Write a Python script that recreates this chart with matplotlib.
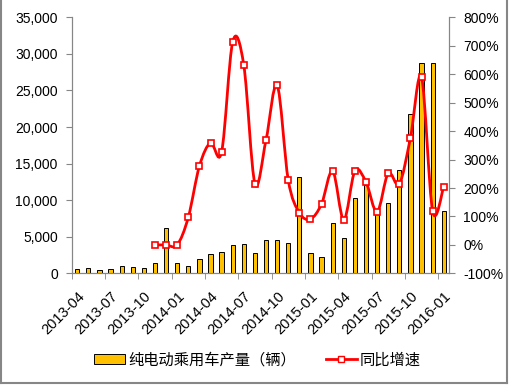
import numpy as np
import matplotlib
matplotlib.use('Agg')
import matplotlib.pyplot as plt
from matplotlib.path import Path
from matplotlib.patches import PathPatch, Rectangle
from matplotlib.lines import Line2D
from matplotlib.ticker import FuncFormatter, MultipleLocator

plt.rcParams['font.family'] = ['Liberation Sans', 'Noto Sans CJK SC']

months = ['2013-04', '2013-05', '2013-06', '2013-07', '2013-08', '2013-09',
          '2013-10', '2013-11', '2013-12', '2014-01', '2014-02', '2014-03',
          '2014-04', '2014-05', '2014-06', '2014-07', '2014-08', '2014-09',
          '2014-10', '2014-11', '2014-12', '2015-01', '2015-02', '2015-03',
          '2015-04', '2015-05', '2015-06', '2015-07', '2015-08', '2015-09',
          '2015-10', '2015-11', '2015-12', '2016-01']

# production of pure-electric passenger cars (units)
production = [550, 680, 400, 550, 950, 900, 680, 1370, 6150, 1370, 950, 1900,
              2600, 2870, 3830, 3970, 2740, 4550, 4550, 4100, 13130, 2830,
              2190, 6840, 4790, 10260, 12040, 8200, 9650, 14100, 21750, 28730,
              28730, 8500]

# year-on-year growth (%), starts at 2013-11
growth_start = 7
growth = [0, 0, 0, 97, 277, 359, 327, 714, 631, 215, 369, 562, 228, 113, 91,
          144, 260, 88, 260, 221, 116, 252, 214, 376, 589, 119, 205]

bar_label = '纯电动乘用车产量（辆）'
line_label = '同比增速'

fig = plt.figure(figsize=(5.12, 3.85), dpi=100)
ax = fig.add_axes([0.140, 0.290, 0.7375, 0.665])
ax2 = ax.twinx()

x = np.arange(len(months))
ax.bar(x, production, width=0.38, color='#FFC000', edgecolor='black', linewidth=0.7)
ax.set_xlim(-0.5, len(months) - 0.5)
ax.set_ylim(0, 35000)
ax.yaxis.set_major_locator(MultipleLocator(5000))
ax.yaxis.set_major_formatter(FuncFormatter(lambda v, p: f'{v:,.0f}'))

# smoothed line (bezier through the points, like excel's smoothing)
gx = np.arange(growth_start, growth_start + len(growth))
gy = np.array(growth, dtype=float)
pts = np.column_stack([gx, gy])
verts = [pts[0]]
codes = [Path.MOVETO]
n = len(pts)
for i in range(n - 1):
    p0 = pts[max(i - 1, 0)]
    p1 = pts[i]
    p2 = pts[i + 1]
    p3 = pts[min(i + 2, n - 1)]
    c1 = p1 + (p2 - p0) / 6
    c2 = p2 - (p3 - p1) / 6
    verts += [c1, c2, p2]
    codes += [Path.CURVE4] * 3
ax2.add_patch(PathPatch(Path(verts, codes), facecolor='none', edgecolor='#FF0000',
                        linewidth=2.0, zorder=3))
ax2.plot(gx, gy, linestyle='none', marker='s', markersize=5,
         markerfacecolor='white', markeredgecolor='#FF0000', markeredgewidth=1.2, zorder=4)
ax2.set_ylim(-100, 800)
ax2.yaxis.set_major_locator(MultipleLocator(100))
ax2.yaxis.set_major_formatter(FuncFormatter(lambda v, p: f'{v:.0f}%'))

# ticks
ax.set_xticks(x[::3])
ax.set_xticklabels(months[::3], rotation=45, ha='right', va='top',
                   rotation_mode='anchor', fontsize=10.5)
ax.set_xticks(np.arange(-0.5, len(months), 3), minor=True)
ax.tick_params(axis='x', which='major', length=0, pad=11)
ax.tick_params(axis='x', which='minor', length=4, color='#868686', direction='out')
ax.tick_params(axis='y', length=4, color='#868686', labelsize=10, pad=6)
ax2.tick_params(axis='y', length=4, color='#868686', labelsize=10, pad=6)

for a in (ax, ax2):
    a.spines['top'].set_visible(False)
    for s in ('left', 'right', 'bottom'):
        a.spines[s].set_color('#868686')
        a.spines[s].set_linewidth(0.8)

handles = [Rectangle((0, 0), 1, 1, facecolor='#FFC000', edgecolor='black', linewidth=0.7),
           Line2D([], [], color='#FF0000', linewidth=2.0, marker='s', markersize=5,
                  markerfacecolor='white', markeredgecolor='#FF0000')]
fig.legend(handles, [bar_label, line_label], loc='center', bbox_to_anchor=(0.503, 0.065),
           ncol=2, frameon=False, fontsize=11, handlelength=2.0, handletextpad=0.2,
           columnspacing=2.0)

# chart border (left, right, bottom)
fig.add_artist(Line2D([0.002, 0.002], [0.005, 1.0], transform=fig.transFigure,
                      color='#868686', linewidth=1.5))
fig.add_artist(Line2D([0.990, 0.990], [0.005, 1.0], transform=fig.transFigure,
                      color='#868686', linewidth=1.5))
fig.add_artist(Line2D([0.002, 0.990], [0.005, 0.005], transform=fig.transFigure,
                      color='#868686', linewidth=1.5))

fig.savefig('out.png', dpi=100)
